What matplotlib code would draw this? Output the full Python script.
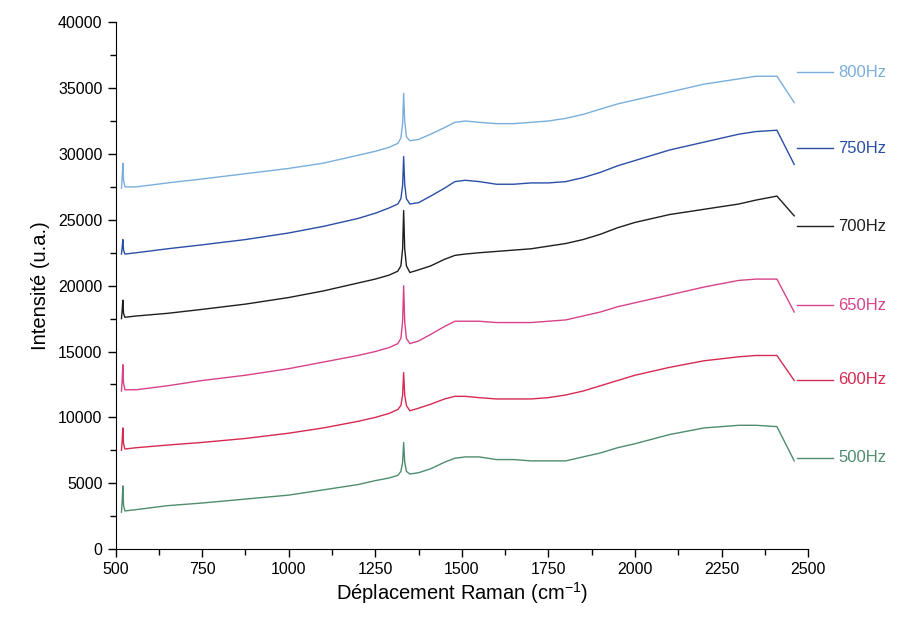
import numpy as np
import matplotlib
matplotlib.use("Agg")
import matplotlib.pyplot as plt

plt.rcParams['font.family'] = ['Liberation Sans', 'DejaVu Sans']

# Raman shift (cm-1) sample points
shift = [517, 519, 521, 523, 527, 560, 650, 750, 875, 1000, 1100, 1200, 1250, 1290, 1315, 1324,
         1329, 1332, 1335, 1340, 1350, 1375, 1410, 1450, 1480, 1510, 1550, 1600, 1650, 1700,
         1750, 1800, 1850, 1900, 1950, 2000, 2100, 2200, 2300, 2350, 2410, 2460]

labels = ["800Hz", "750Hz", "700Hz", "650Hz", "600Hz", "500Hz"]

i800 = [27400, 28200, 29300, 28000, 27500, 27500, 27800, 28100, 28500, 28900, 29300, 29900, 30200, 30500,
        30800, 31200, 32300, 34600, 32500, 31300, 31000, 31100, 31500, 32000, 32400, 32500, 32400, 32300,
        32300, 32400, 32500, 32700, 33000, 33400, 33800, 34100, 34700, 35300, 35700, 35900, 35900, 33900]
i750 = [22400, 22900, 23500, 22700, 22400, 22500, 22800, 23100, 23500, 24000, 24500, 25100, 25500, 25900,
        26200, 26600, 27600, 29800, 27700, 26600, 26200, 26300, 26800, 27400, 27900, 28000, 27900, 27700,
        27700, 27800, 27800, 27900, 28200, 28600, 29100, 29500, 30300, 30900, 31500, 31700, 31800, 29200]
i700 = [17500, 18100, 18900, 17900, 17600, 17700, 17900, 18200, 18600, 19100, 19600, 20200, 20500, 20800,
        21100, 21500, 22800, 25700, 22800, 21500, 21000, 21200, 21500, 22000, 22300, 22400, 22500, 22600,
        22700, 22800, 23000, 23200, 23500, 23900, 24400, 24800, 25400, 25800, 26200, 26500, 26800, 25300]
i650 = [12000, 12800, 14000, 12600, 12100, 12100, 12400, 12800, 13200, 13700, 14200, 14700, 15000, 15300,
        15600, 16000, 17300, 20000, 17300, 16000, 15600, 15800, 16300, 16900, 17300, 17300, 17300, 17200,
        17200, 17200, 17300, 17400, 17700, 18000, 18400, 18700, 19300, 19900, 20400, 20500, 20500, 18000]
i600 = [7500, 8200, 9200, 8000, 7600, 7700, 7900, 8100, 8400, 8800, 9200, 9700, 10000, 10300,
        10600, 10900, 11700, 13400, 11700, 10900, 10500, 10700, 11000, 11400, 11600, 11600, 11500, 11400,
        11400, 11400, 11500, 11700, 12000, 12400, 12800, 13200, 13800, 14300, 14600, 14700, 14700, 12800]
i500 = [2800, 3600, 4800, 3300, 2900, 3000, 3300, 3500, 3800, 4100, 4500, 4900, 5200, 5400,
        5600, 5900, 6600, 8100, 6600, 5900, 5700, 5800, 6100, 6600, 6900, 7000, 7000, 6800,
        6800, 6700, 6700, 6700, 7000, 7300, 7700, 8000, 8700, 9200, 9400, 9400, 9300, 6700]

series = [i800, i750, i700, i650, i600, i500]
colors = ["#7aaedb", "#2a4ea8", "#1e1e1e", "#d8428a", "#d62a52", "#4f8d6e"]
label_pos = [0.905, 0.761, 0.613, 0.463, 0.321, 0.173]

fig = plt.figure(figsize=(9.1, 6.17), dpi=100)
ax = fig.add_axes([0.127, 0.110, 0.761, 0.854])

for ys, c, lab, yp in zip(series, colors, labels, label_pos):
    ax.plot(shift, ys, color=c, lw=1.0)
    ax.plot([0.984, 1.036], [yp, yp], color=c, lw=1.0, transform=ax.transAxes, clip_on=False)
    ax.text(1.044, yp, lab, color=c, fontsize=12, va='center', ha='left', transform=ax.transAxes)

ax.set_xlim(500, 2500)
ax.set_ylim(0, 40000)
ax.set_xticks(np.arange(500, 2501, 250))
ax.set_xticks(np.arange(625, 2500, 250), minor=True)
ax.set_yticks(np.arange(0, 40001, 5000))
ax.set_yticks(np.arange(2500, 40000, 5000), minor=True)
ax.spines['top'].set_visible(False)
ax.spines['right'].set_visible(False)
ax.tick_params(which='major', direction='out', length=6, width=1, labelsize=11.5)
ax.tick_params(which='minor', direction='out', length=4, width=1)

ax.set_xlabel("Déplacement Raman (cm$^{\\mathregular{-1}}$)", fontsize=14.5, labelpad=2)
ax.set_ylabel("Intensité (u.a.)", fontsize=14.5, labelpad=6)

plt.savefig("out.png", dpi=100)
